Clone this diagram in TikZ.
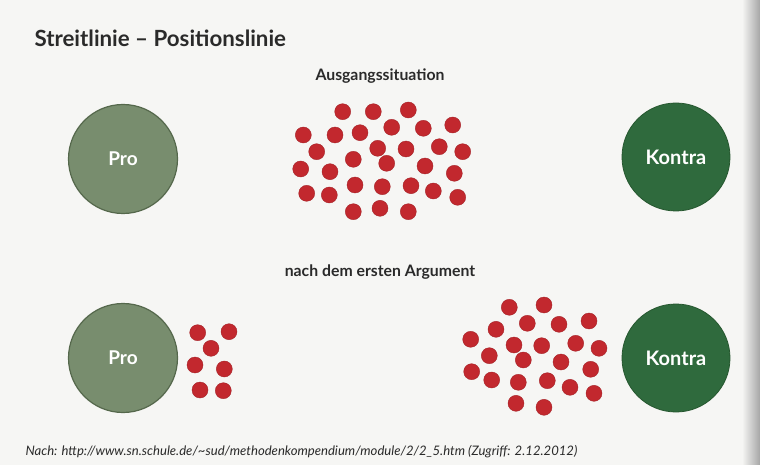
\documentclass[tikz,border=0pt]{standalone}
\usepackage{fontspec}
\setmainfont{Lato}
\usetikzlibrary{shadings}
\definecolor{bg}{HTML}{F6F6F4}
\definecolor{profill}{HTML}{788D6E}
\definecolor{prodraw}{HTML}{55684C}
\definecolor{kofill}{HTML}{2F6A3D}
\definecolor{kodraw}{HTML}{26572F}
\definecolor{dotred}{HTML}{C2282E}
\definecolor{txt}{HTML}{2A2A2A}
\tikzset{
  procirc/.style={circle, minimum size=109pt, inner sep=0pt, fill=profill, draw=prodraw, line width=1.2pt,
    text=white, font=\fontsize{19}{19}\selectfont\bfseries},
  kocirc/.style={circle, minimum size=108pt, inner sep=0pt, fill=kofill, draw=kodraw, line width=0.8pt,
    text=white, font=\fontsize{20}{20}\selectfont\bfseries},
  dot/.style={circle, minimum size=16pt, inner sep=0pt, fill=dotred, draw=dotred!85!black, line width=0.4pt},
  heading/.style={anchor=base, text=txt, font=\fontsize{15.8}{16}\selectfont\bfseries},
}
\begin{document}
\begin{tikzpicture}[x=1pt,y=-1pt]
\fill[bg] (0,0) rectangle (760,465);
\shade[left color=bg, right color=black!35] (742,0) rectangle (760,465);
\useasboundingbox (0,0) rectangle (760,465);
\node[anchor=base west, text=txt, font=\fontsize{22.3}{22}\selectfont\bfseries] (title) at (31,47) {Streitlinie – Positionslinie};
\node[heading] (h1) at (380,81) {Ausgangssituation};
\node[heading] (h2) at (380,276) {nach dem ersten Argument};
\node[procirc] (pro1) at (123,159) {Pro};
\node[kocirc] (ko1) at (676,157) {Kontra};
\node[procirc] (pro2) at (123,358) {Pro};
\node[kocirc] (ko2) at (676,358) {Kontra};
\foreach \x/\y [count=\i] in {342.7/111.7, 373.3/111.7, 408.3/110, 391.7/127.3, 423.3/128.3, 452.7/125,
  303.3/135, 335/135, 360/132.7, 316.7/151.7, 377.7/148.3, 406/149, 439.3/146.7, 462.7/151.7,
  353.3/159.3, 386.7/163.3, 425/166, 300.7/169, 330/171.7, 454.3/173.3,
  355/185, 382.3/186.7, 411/185.7, 433.3/191, 306.7/193.3, 329.3/195, 457.7/197.3,
  353.3/211.7, 380/208.3, 408.3/211.7}
  \node[dot] (a\i) at (\x,\y) {};
\foreach \x/\y [count=\i] in {197.7/332.7, 229/331.7, 211/348.3, 195/365, 224.3/369, 200/390, 223.3/390.7}
  \node[dot] (b\i) at (\x,\y) {};
\foreach \x/\y [count=\i] in {509.3/307.3, 544/305, 527.3/323.3, 496/329.3, 559/324.3, 589/321,
  470.7/339.3, 514/345, 541.7/345.7, 575.7/343.3, 599/348.3, 489.3/355.7, 523.3/360, 561/362,
  590.7/369.3, 471.7/371.7, 491.7/380, 518.3/382.3, 547.3/380.7, 570/387.3, 594/393.3,
  516/403.3, 544/407.3}
  \node[dot] (c\i) at (\x,\y) {};
\node[anchor=base west, text=txt, font=\fontsize{13.1}{13}\selectfont\itshape] (src) at (22,455)
  {Nach: http://www.sn.schule.de/\textasciitilde sud/methodenkompendium/module/2/2\_5.htm (Zugriff: 2.12.2012)};
\end{tikzpicture}
\end{document}
